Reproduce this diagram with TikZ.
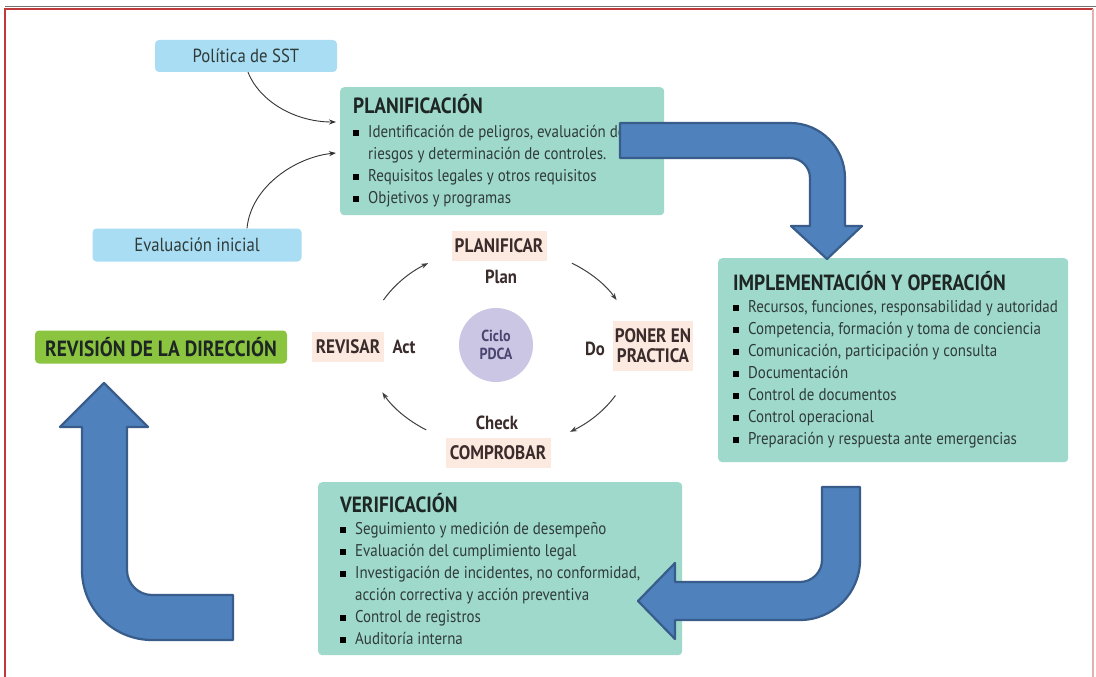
\documentclass[tikz,border=0pt]{standalone}
\usepackage{fontspec}
\setmainfont{PT Sans}[FakeStretch=0.88]
\usepackage{xcolor}
\usepackage{tikz}
\usetikzlibrary{positioning, arrows.meta, calc}
\definecolor{panelteal}{HTML}{9FD9CB}
\definecolor{inputblue}{HTML}{A9DDF3}
\definecolor{reviewgreen}{HTML}{8BC540}
\definecolor{stagepeach}{HTML}{FCEAE1}
\definecolor{cyclelilac}{HTML}{CBC6E3}
\definecolor{arrowfill}{HTML}{4F81BD}
\definecolor{arrowline}{HTML}{385D8A}
\definecolor{framered}{HTML}{C0393B}
\definecolor{bodytext}{HTML}{2F3B38}
\definecolor{titletext}{HTML}{1E2624}
\definecolor{stagetext}{HTML}{3B2C2C}
\definecolor{ciclotext}{HTML}{4A4470}

\newcommand{\paneltitle}{\fontsize{22}{22}\selectfont\bfseries\color{titletext}}
\newcommand{\itemmark}{{\color{black}\rule[1.5pt]{6pt}{6pt}}\hspace{9pt}}
\newcommand{\itemgap}{\hspace*{15pt}}

\tikzset{
  panel/.style={fill=panelteal, rounded corners=4pt, anchor=north west, inner sep=0pt},
  paneltext/.style={align=left, inner sep=0pt, text=bodytext, font=\fontsize{17}{22}\selectfont},
  inputbox/.style={fill=inputblue, rounded corners=4pt, inner sep=0pt, text=bodytext, font=\fontsize{19}{21}\selectfont},
  stage/.style={fill=stagepeach, inner sep=0pt, align=center, text=stagetext, font=\bfseries\fontsize{19.5}{20}\selectfont},
  tag/.style={inner sep=1pt, text=stagetext, font=\bfseries\fontsize{19}{20}\selectfont},
  link/.style={-{Stealth[length=7pt,width=5pt]}, draw=black!80, line width=0.9pt},
  cyclearrow/.style={-{Stealth[length=7pt,width=5pt]}, draw=black!75, line width=1pt},
  bigarrow/.style={fill=arrowfill, draw=arrowline, line width=2.2pt, line join=round},
}

\begin{document}
\begin{tikzpicture}[x=1pt, y=-1pt]
  \useasboundingbox[fill=white] (0,0) rectangle (1096,677);
  % frame
  \draw[framered, line width=2pt] (5,677) -- (5,9) -- (1093,9);
  \draw[framered!40, line width=1.2pt] (1093,9) -- (1093,677);
  \draw[black!55, line width=1pt] (5,7) -- (1096,7);

  % panels
  \node[panel, minimum width=324pt, minimum height=128pt] (plan) at (340,87) {};
  \node[paneltext, right=13pt of plan.west] (plantxt) {%
    {\paneltitle PLANIFICACIÓN}\\[2pt]
    \itemmark Identificación de peligros, evaluación de\\
    \itemgap riesgos y determinación de controles.\\
    \itemmark Requisitos legales y otros requisitos\\
    \itemmark Objetivos y programas};

  \node[panel, minimum width=350pt, minimum height=204pt] (impl) at (718,258) {};
  \node[paneltext, right=15pt of impl.west] (impltxt) {%
    {\paneltitle IMPLEMENTACIÓN Y OPERACIÓN}\\
    \itemmark Recursos, funciones, responsabilidad y autoridad\\
    \itemmark Competencia, formación y toma de conciencia\\
    \itemmark Comunicación, participación y consulta\\
    \itemmark Documentación\\
    \itemmark Control de documentos\\
    \itemmark Control operacional\\
    \itemmark Preparación y respuesta ante emergencias};

  \node[panel, minimum width=364pt, minimum height=173pt] (verif) at (318,482) {};
  \node[paneltext, right=22pt of verif.west] (veriftxt) {%
    {\paneltitle VERIFICACIÓN}\\
    \itemmark Seguimiento y medición de desempeño\\
    \itemmark Evaluación del cumplimiento legal\\
    \itemmark Investigación de incidentes, no conformidad,\\
    \itemgap acción correctiva y acción preventiva\\
    \itemmark Control de registros\\
    \itemmark Auditoría interna};

  % inputs and review
  \node[inputbox, minimum width=182pt, minimum height=32pt] (pol) at (246,56) {Política de SST};
  \node[inputbox, minimum width=209pt, minimum height=33pt] (eva) at (197,245) {Evaluación inicial};
  \node[fill=reviewgreen, rounded corners=4pt, inner sep=0pt, minimum width=252pt, minimum height=33pt,
        text=titletext, font=\bfseries\fontsize{22}{22}\selectfont] (rev) at (161,347) {REVISIÓN DE LA DIRECCIÓN};

  \coordinate (pin1) at (336,122);
  \coordinate (pin2) at (336,153);
  \draw[link] ([xshift=2pt]pol.south) .. controls +(12,30) and +(-40,0) .. (pin1);
  \draw[link] ([xshift=50pt]eva.north) .. controls +(4,-42) and +(-40,4) .. (pin2);

  % PDCA cycle
  \node[circle, fill=cyclelilac, minimum size=74pt, inner sep=0pt, align=center,
        text=ciclotext, font=\bfseries\fontsize{16}{18}\selectfont] (pdca) at (496,345) {Ciclo\\PDCA};
  \node[stage, minimum width=95pt, minimum height=30pt] (planif) at (499,246) {PLANIFICAR};
  \node[tag] (plantag) at (501,277) {Plan};
  \node[stage, minimum width=80pt, minimum height=50pt] (hacer) at (653,346) {PONER EN\\PRACTICA};
  \node[tag] (dotag) at (595,349) {Do};
  \node[stage, minimum width=72pt, minimum height=30pt] (revisar) at (348,347) {REVISAR};
  \node[tag] (acttag) at (404,347) {Act};
  \node[tag] (checktag) at (497,423) {Check};
  \node[stage, minimum width=105pt, minimum height=30pt] (comprobar) at (498,453) {COMPROBAR};

  \coordinate (cyc) at (500,347);
  \foreach \a in {208,303,29,124}
    \draw[cyclearrow] ($(cyc)+(\a:132 and 100)$) arc[start angle=\a, delta angle=29, x radius=132, y radius=100];

  % big arrows
  \draw[bigarrow] (620,123) -- (790,123) .. controls (820.4,123) and (845,147.6) .. (845,178)
    -- (845,226) -- (862,226) -- (827,259) -- (791,226) -- (810,226) -- (810,178)
    .. controls (810,167) and (801,158) .. (790,158) -- (620,158) -- cycle;
  \draw[bigarrow] (822,487) -- (860,487) -- (860,560) .. controls (860,593.1) and (833.1,620) .. (800,620)
    -- (675,620) -- (675,639) -- (638,601) -- (675,563) -- (675,582) -- (800,582)
    .. controls (812.1,582) and (822,572.1) .. (822,560) -- cycle;
  \draw[bigarrow] (104,383) -- (148,427) -- (127,427) -- (127,570) .. controls (127,583.8) and (138.2,595) .. (152,595)
    -- (233,595) -- (233,640) -- (152,640) .. controls (113.3,640) and (82,608.7) .. (82,570)
    -- (82,427) -- (60,427) -- cycle;
\end{tikzpicture}
\end{document}
